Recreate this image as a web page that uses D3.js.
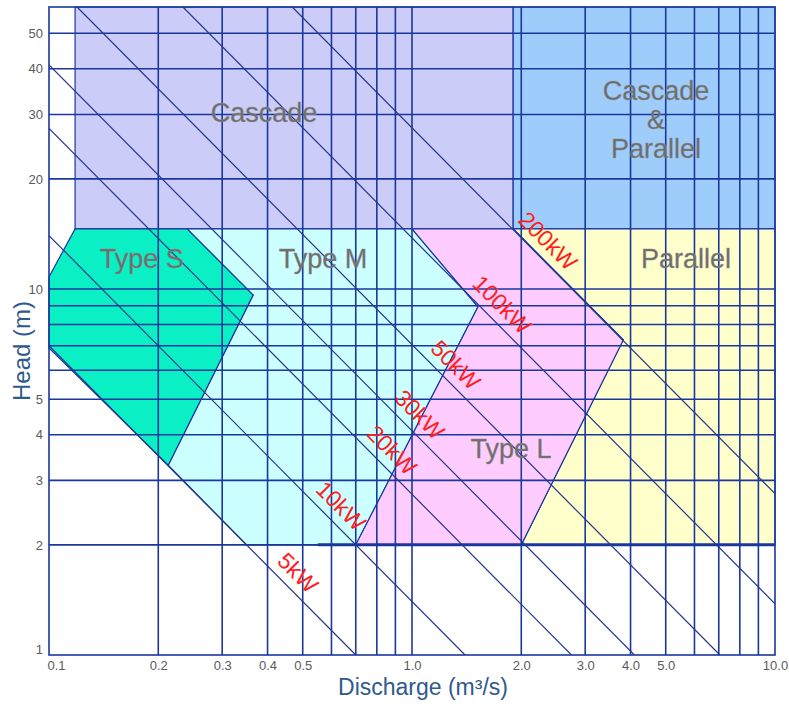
<!DOCTYPE html>
<html>
<head>
<meta charset="utf-8">
<script src="https://cdn.jsdelivr.net/npm/d3@7"></script>
<style>
  body { margin: 0; background: #fff; }
  text { font-family: "Liberation Sans", Arial, sans-serif; }
</style>
</head>
<body>
<div id="chart"></div>
<script>
// grid and tick values, discharge (m3/s) and head (m)
var xGrid = [0.2, 0.3, 0.4, 0.5, 0.6, 0.7, 0.8, 0.9, 1, 2, 3, 4, 5, 6, 7, 8, 9];
var xLabels = [0.1, 0.2, 0.3, 0.4, 0.5, 1, 2, 3, 4, 5, 10];
var yGrid = [2, 3, 4, 5, 6, 7, 8, 9, 10, 20, 30, 40, 50];
var yLabels = [1, 2, 3, 4, 5, 10, 20, 30, 40, 50];

// constant output lines (Q * H)
var powerNames = ["5kW", "10kW", "20kW", "30kW", "50kW", "100kW", "200kW"];
var powerQH = [0.7, 1.4, 2.75, 4.1, 7.05, 13.8, 27.6];
var powerLabelQ = [0.485, 0.637, 0.881, 1.05, 1.32, 1.77, 2.37];

// application areas, [Q, H] corners
var cascade = [[0.118, 14.6], [1.9, 14.6], [1.9, 59], [0.118, 59]];
var cascadeParallel = [[1.9, 14.6], [10, 14.6], [10, 59], [1.9, 59]];
var parallel = [[1.9, 14.6], [10, 14.6], [10, 2], [2, 2], [3.82, 7.26]];
var typeM = [[0.24, 14.6], [1, 14.6], [1.52, 8.94], [0.7, 2], [0.35, 2], [0.213, 3.3], [0.365, 9.63]];
var typeS = [[0.118, 14.6], [0.24, 14.6], [0.365, 9.63], [0.213, 3.3], [0.1, 6.9], [0.1, 10.8]];
var typeL = [[1, 14.6], [1.9, 14.6], [3.82, 7.26], [2, 2], [0.7, 2], [1.52, 8.94]];

var width = 789, height = 708;
var gridColor = "#1a379e";

var svg = d3.select("#chart").append("svg")
    .attr("width", width)
    .attr("height", height);

var x = d3.scaleLog().domain([0.1, 10]).range([49, 775]);
var y = d3.scaleLog().domain([1, 59]).range([655, 7]);

var line = d3.line()
    .x(function (d) { return x(d[0]); })
    .y(function (d) { return y(d[1]); });

svg.append("clipPath").attr("id", "plot")
  .append("rect")
    .attr("x", x(0.1)).attr("y", y(59))
    .attr("width", x(10) - x(0.1)).attr("height", y(1) - y(59));

// filled areas
var areas = [
    { pts: cascade, fill: "#ccccf8" },
    { pts: cascadeParallel, fill: "#9fcdfb" },
    { pts: parallel, fill: "#ffffcc" },
    { pts: typeM, fill: "#ccffff" },
    { pts: typeS, fill: "#0af0c4" },
    { pts: typeL, fill: "#ffccff" }
];
svg.append("g").selectAll("path")
    .data(areas)
    .enter().append("path")
    .attr("d", function (d) { return line(d.pts) + "Z"; })
    .style("fill", function (d) { return d.fill; })
    .style("stroke", gridColor)
    .style("stroke-width", 1.2);

// grid
var grid = svg.append("g").style("stroke", gridColor).style("stroke-width", 1.6);
grid.selectAll("line.v")
    .data(xGrid)
    .enter().append("line")
    .attr("class", "v")
    .attr("x1", function (d) { return x(d); })
    .attr("x2", function (d) { return x(d); })
    .attr("y1", y(59))
    .attr("y2", y(1));
grid.selectAll("line.h")
    .data(yGrid)
    .enter().append("line")
    .attr("class", "h")
    .attr("x1", x(0.1))
    .attr("x2", x(10))
    .attr("y1", function (d) { return y(d); })
    .attr("y2", function (d) { return y(d); });

// power lines
svg.append("g").attr("clip-path", "url(#plot)")
    .selectAll("path")
    .data(powerQH)
    .enter().append("path")
    .attr("d", function (c) {
        var q1 = Math.max(0.1, c / 59), q2 = Math.min(10, c);
        return line([[q1, c / q1], [q2, c / q2]]);
    })
    .style("fill", "none")
    .style("stroke", "#24358a")
    .style("stroke-width", 1.2);

// lower limit of head
svg.append("line")
    .attr("x1", x(0.55)).attr("x2", x(10))
    .attr("y1", y(2)).attr("y2", y(2))
    .style("stroke", gridColor)
    .style("stroke-width", 3);

// frame
svg.append("rect")
    .attr("x", x(0.1)).attr("y", y(59))
    .attr("width", x(10) - x(0.1)).attr("height", y(1) - y(59))
    .style("fill", "none")
    .style("stroke", gridColor)
    .style("stroke-width", 1.6);

// power labels
svg.append("g").selectAll("text")
    .data(powerNames)
    .enter().append("text")
    .attr("transform", function (d, i) {
        var q = powerLabelQ[i];
        return "translate(" + x(q) + "," + (y(powerQH[i] / q) - 24) + ") rotate(45)";
    })
    .attr("text-anchor", "middle")
    .attr("dy", "0.35em")
    .style("fill", "#ff1e1e")
    .style("font-size", "23px")
    .text(function (d) { return d; });

// area names
var names = [
    { t: ["Cascade"], q: 0.391, h: 28.6 },
    { t: ["Cascade", "&", "Parallel"], q: 4.7, h: 32.8 },
    { t: ["Type S"], q: 0.18, h: 11.4 },
    { t: ["Type M"], q: 0.569, h: 11.4 },
    { t: ["Parallel"], q: 5.69, h: 11.4 },
    { t: ["Type L"], q: 1.874, h: 3.45 }
];
var nameText = svg.append("g").selectAll("text")
    .data(names)
    .enter().append("text")
    .attr("x", function (d) { return x(d.q); })
    .attr("y", function (d) { return y(d.h); })
    .attr("text-anchor", "middle")
    .style("fill", "#6c6c6c")
    .style("stroke", "#8c8c8c")
    .style("stroke-width", 0.4)
    .style("font-size", "27px");
nameText.selectAll("tspan")
    .data(function (d) { return d.t.map(function (s) { return { s: s, q: d.q }; }); })
    .enter().append("tspan")
    .attr("x", function (d) { return x(d.q); })
    .attr("dy", function (d, i) { return i ? 29 : 0; })
    .text(function (d) { return d.s; });

// axes
var xAxis = d3.axisBottom(x)
    .tickValues(xLabels)
    .tickFormat(d3.format(".1f"))
    .tickSize(0)
    .tickPadding(6);
svg.append("g")
    .attr("class", "x axis")
    .attr("transform", "translate(0," + y(1) + ")")
    .call(xAxis);

var yAxis = d3.axisLeft(y)
    .tickValues(yLabels)
    .tickFormat(d3.format("d"))
    .tickSize(0)
    .tickPadding(6);
svg.append("g")
    .attr("class", "y axis")
    .attr("transform", "translate(" + x(0.1) + ",0)")
    .call(yAxis);

svg.selectAll(".axis .domain").remove();
svg.selectAll(".axis text")
    .style("font-family", "'Liberation Sans', Arial, sans-serif")
    .style("font-size", "13px")
    .style("fill", "#5a5a5a");

// first labels sit off the corner
svg.selectAll(".x.axis .tick text")
    .filter(function (d) { return d === 0.1; })
    .attr("text-anchor", "start")
    .attr("x", -2);
svg.selectAll(".y.axis .tick text")
    .filter(function (d) { return d === 1; })
    .attr("dy", "-0.1em");

svg.append("text")
    .attr("x", 423)
    .attr("y", 695)
    .attr("text-anchor", "middle")
    .style("fill", "#2f5a8c")
    .style("font-size", "23px")
    .text("Discharge (m³/s)");

svg.append("text")
    .attr("transform", "translate(30,351) rotate(-90)")
    .attr("text-anchor", "middle")
    .style("fill", "#2f5a8c")
    .style("font-size", "24px")
    .text("Head (m)");
</script>
</body>
</html>
